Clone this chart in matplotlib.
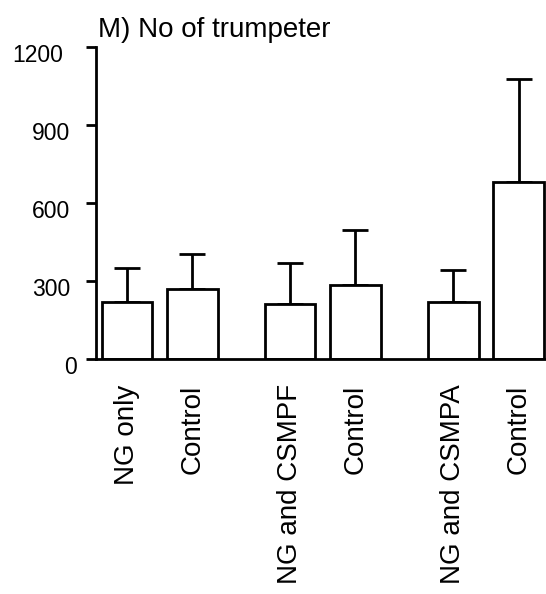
import numpy as np
import matplotlib.pyplot as plt
import matplotlib.transforms as mtransforms

plt.rcParams['font.family'] = ['Liberation Sans', 'DejaVu Sans']

# ==== data ====
groups = ['NG only', 'Control', 'NG and CSMPF', 'Control', 'NG and CSMPA', 'Control']
positions = [0, 1, 2.5, 3.5, 5, 6]
means = [221, 268, 211, 285, 220, 680]
errors = [128, 135, 158, 210, 121, 397]
yticks = [0, 300, 600, 900, 1200]

# ==== figure ====
fig = plt.figure(figsize=(5.46, 5.94), dpi=100)
ax = fig.add_axes([95.7 / 546, 1 - 359.3 / 594, 1 - 95.7 / 546, (359.3 - 46.7) / 594])

lw = 2.0
ax.errorbar(positions, means, yerr=[np.zeros(len(errors)), errors], fmt='none',
            ecolor='black', elinewidth=lw, capsize=9.2, capthick=lw, zorder=1)
ax.bar(positions, means, width=0.776, color='white', edgecolor='black',
       linewidth=lw, zorder=2)

ax.set_xlim(-0.479, 6.42)
ax.set_ylim(0, 1200)
ax.set_yticks(yticks)
ax.set_yticklabels([str(v) for v in yticks], fontsize=16.5)
ax.set_xticks(positions)
ax.set_xticklabels(groups, rotation=90, fontsize=20, va='top', ha='center')

for side in ['top', 'right']:
    ax.spines[side].set_visible(False)
for side in ['left', 'bottom']:
    ax.spines[side].set_linewidth(lw)
ax.tick_params(axis='y', length=7.5, width=lw, pad=11)
ax.tick_params(axis='x', length=0, pad=18)

# y labels sit a little below their ticks; "0" nudged right, "1200" left
shifts = [0.07, 0.0, 0.0, 0.0, -0.07]
for lab, dx in zip(ax.get_yticklabels(), shifts):
    lab.set_transform(lab.get_transform() +
                      mtransforms.ScaledTranslation(dx, -0.06, fig.dpi_scale_trans))

ax.set_title('M) No of trumpeter', loc='left', fontsize=20, pad=7, x=0.005)

fig.savefig('out.png', dpi=100)
